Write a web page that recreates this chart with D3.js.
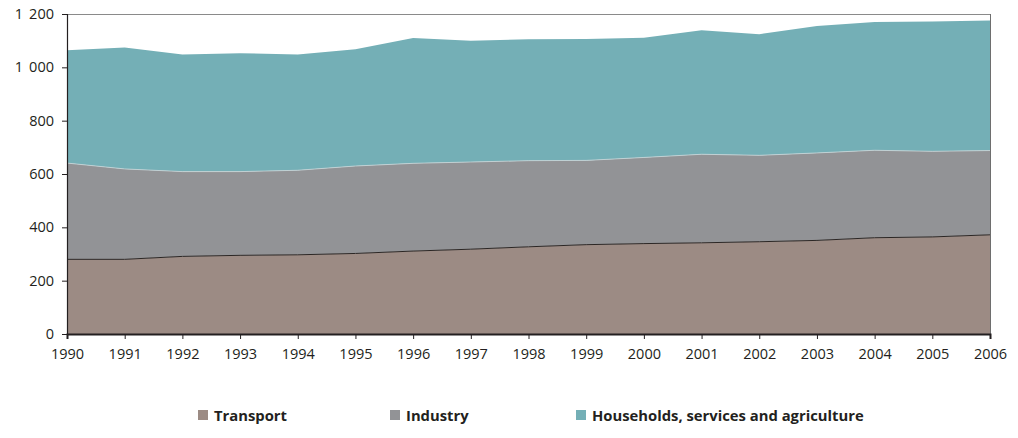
<!DOCTYPE html>
<html>
<head>
<meta charset="utf-8">
<script src="https://cdn.jsdelivr.net/npm/d3@7"></script>
<style>
  html, body { margin: 0; padding: 0; background: #fff; }
  svg { display: block; }
  text { font-family: "Open Sans", "Noto Sans", sans-serif; fill: #231f20; }
</style>
</head>
<body>
<svg id="chart" width="1018" height="438"></svg>
<script>
const years = [1990,1991,1992,1993,1994,1995,1996,1997,1998,1999,2000,2001,2002,2003,2004,2005,2006];
const transport = [280,280,291,295,297,302,311,318,327,335,339,342,346,351,361,364,372];
const industry = [361,339,318,314,317,328,329,327,323,316,323,332,324,328,328,321,316];
const households = [423,455,439,444,434,438,470,455,455,455,449,465,454,476,481,487,488];
const seriesNames = ["Transport","Industry","Households, services and agriculture"];
const yTicks = [0,200,400,600,800,1000,1200];
const colors = ["#9c8b84","#929396","#74afb6"];

const svg = d3.select("#chart");
const m = {left: 67, right: 990, top: 14, bottom: 334};

const x = d3.scaleLinear().domain([1990, 2006]).range([m.left, m.right]);
const y = d3.scaleLinear().domain([0, 1200]).range([m.bottom, m.top]);

const table = years.map((yr, i) => ({year: yr, t: transport[i], ind: industry[i], h: households[i]}));
const stack = d3.stack().keys(["t","ind","h"]);
const layers = stack(table);

const area = d3.area()
  .x(d => x(d.data.year))
  .y0(d => y(d[0]))
  .y1(d => y(d[1]));

svg.append("g").selectAll("path")
  .data(layers)
  .join("path")
  .attr("d", area)
  .attr("fill", (d, i) => colors[i]);

// boundary lines
const line = d3.line().x(d => x(d.data.year)).y(d => y(d[1]));
svg.append("path").datum(layers[0]).attr("d", line)
  .attr("fill", "none").attr("stroke", "#2b2624").attr("stroke-width", 1);
svg.append("path").datum(layers[1]).attr("d", line)
  .attr("fill", "none").attr("stroke", "#c9d6d8").attr("stroke-width", 0.8);

// frame top/right
svg.append("line").attr("x1", m.left).attr("x2", m.right).attr("y1", m.top + 0.5).attr("y2", m.top + 0.5)
  .attr("stroke", "#8a8a8a").attr("stroke-width", 1);
svg.append("line").attr("x1", m.right + 0.5).attr("x2", m.right + 0.5).attr("y1", m.top).attr("y2", m.bottom)
  .attr("stroke", "#6e6e6e").attr("stroke-width", 1);

// y axis
const fmt = v => v >= 1000 ? Math.floor(v / 1000) + " \u2009" + String(v % 1000).padStart(3, "0") : String(v);
const yAxis = d3.axisLeft(y).tickValues(yTicks).tickSize(5).tickPadding(8).tickFormat(fmt);
const gy = svg.append("g").attr("transform", `translate(${m.left},0)`).call(yAxis);
gy.select(".domain").attr("stroke", "#231f20").attr("stroke-width", 1.2);
gy.selectAll(".tick line").attr("stroke", "#231f20");
gy.selectAll("text").style("font-size", "14.5px").attr("fill", "#231f20");

// x axis
const xAxis = d3.axisBottom(x).tickValues(years).tickSize(5).tickPadding(10).tickFormat(d3.format("d"));
const gx = svg.append("g").attr("transform", `translate(0,${m.bottom})`).call(xAxis);
gx.select(".domain").attr("stroke", "#231f20").attr("stroke-width", 2);
gx.selectAll(".tick line").attr("stroke", "#231f20");
gx.selectAll("text").style("font-size", "14.5px").attr("fill", "#231f20");

// legend
const legendX = [198, 390, 576];
const lg = svg.append("g");
seriesNames.forEach((name, i) => {
  lg.append("rect").attr("x", legendX[i]).attr("y", 410).attr("width", 10).attr("height", 10).attr("fill", colors[i]);
  lg.append("text").attr("x", legendX[i] + 16).attr("y", 421)
    .style("font-size", "14.8px").style("font-weight", "bold").text(name);
});
</script>
</body>
</html>
